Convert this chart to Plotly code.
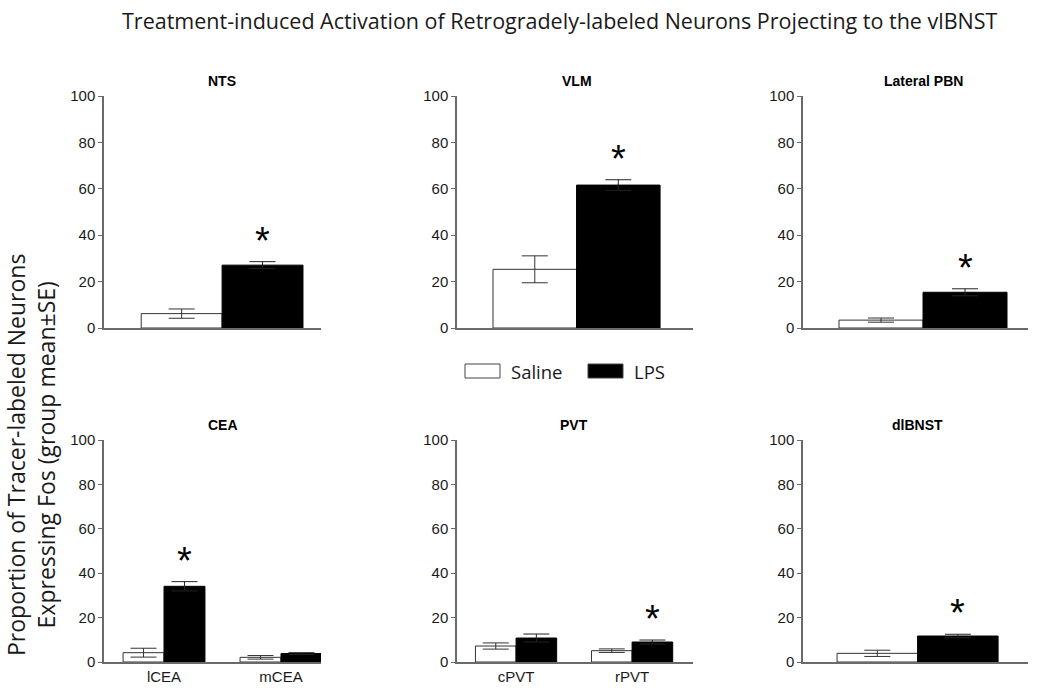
import plotly.graph_objects as go

# data (percent of tracer-labeled neurons that are Fos+)
panel_titles = ["NTS", "VLM", "Lateral PBN", "CEA", "PVT", "dlBNST"]
categories = [["NTS"], ["VLM"], ["Lateral PBN"], ["lCEA", "mCEA"], ["cPVT", "rPVT"], ["dlBNST"]]
saline_mean = [[6.2], [25.3], [3.4], [4.2, 2.1], [7.2, 5.1], [3.9]]
saline_se = [[2.0], [5.8], [0.9], [2.0, 0.8], [1.4, 0.8], [1.4]]
lps_mean = [[27.1], [61.6], [15.4], [34.1, 3.8], [10.8, 9.0], [11.7]]
lps_se = [[1.5], [2.3], [1.5], [2.1, 0.4], [1.8, 0.9], [0.8]]
significant = [[True], [True], [True], [True, False], [False, True], [True]]
y_ticks = [0, 20, 40, 60, 80, 100]

W, H = 1050, 690
BARGAP = 0.3

# panel geometry in pixels: (x left, x right) of the axis, category range
col_px = [(104, 321), (457, 693), (803, 1028), (104, 321), (457, 693), (803, 1028)]
row_px = [(96, 328)] * 3 + [(440, 662)] * 3
x_ranges = [(-0.511, 0.428), (-0.501, 0.488), (-0.5, 0.4375),
            (-0.513, 1.342), (-0.509, 1.525), (-0.498, 0.48)]

AX_COL = "#6a6a6a"
TXT = "#1a1a1a"

fig = go.Figure()
layout = dict(width=W, height=H, margin=dict(l=0, r=0, t=0, b=0, autoexpand=False),
              plot_bgcolor="white", paper_bgcolor="white",
              barmode="group", bargap=BARGAP, bargroupgap=0,
              showlegend=False, font=dict(family="Liberation Sans, Arial", color=TXT))
annotations = []

for i, title in enumerate(panel_titles):
    n = i + 1
    xa, ya = f"x{n}", f"y{n}"
    fig.add_trace(go.Bar(
        x=categories[i], y=saline_mean[i], xaxis=xa, yaxis=ya, name="Saline",
        marker=dict(color="white", line=dict(color="#333333", width=1)),
        error_y=dict(type="data", array=saline_se[i], color="#333333", thickness=1, width=13)))
    fig.add_trace(go.Bar(
        x=categories[i], y=lps_mean[i], xaxis=xa, yaxis=ya, name="LPS",
        marker=dict(color="black", line=dict(color="black", width=1)),
        error_y=dict(type="data", array=lps_se[i], color="#222222", thickness=1, width=13)))

    x0, x1 = col_px[i]
    ytop, ybot = row_px[i]
    key = "" if n == 1 else str(n)
    layout["xaxis" + key] = dict(
        domain=[x0 / W, x1 / W], anchor=ya, range=list(x_ranges[i]), automargin=False,
        type="category", showline=True, linecolor=AX_COL, linewidth=1.5,
        ticks="", showgrid=False, zeroline=False,
        showticklabels=len(categories[i]) > 1,
        tickfont=dict(size=15, color=TXT, family="Liberation Sans, Arial"))
    layout["yaxis" + key] = dict(
        domain=[(H - ybot) / H, (H - ytop) / H], anchor=xa, range=[0, 100], automargin=False,
        tickvals=y_ticks, showline=True, linecolor=AX_COL, linewidth=1.5,
        ticks="outside", ticklen=4, tickcolor=AX_COL, showgrid=False, zeroline=False,
        tickfont=dict(size=15, color=TXT, family="Liberation Sans, Arial"))

    # panel title, centred over the bar groups
    annotations.append(dict(
        x=(len(categories[i]) - 1) / 2, y=100, xref=xa, yref=ya, yshift=15,
        text=f"<b>{title}</b>", showarrow=False, yanchor="middle",
        font=dict(size=14, color="black", family="Liberation Sans, Arial")))

    # significance stars above the LPS bars
    w = (1 - BARGAP) / 4
    for j, sig in enumerate(significant[i]):
        if sig:
            annotations.append(dict(
                x=j + w, y=lps_mean[i][j] + lps_se[i][j], xref=xa, yref=ya,
                yshift=21, text="*", showarrow=False, yanchor="middle",
                font=dict(size=38, color="black", family="Liberation Sans, Arial")))

# figure title and shared y label
annotations.append(dict(
    x=560 / W, y=1 - 20 / H, xref="paper", yref="paper", showarrow=False,
    xanchor="center", yanchor="middle",
    text="Treatment-induced Activation of Retrogradely-labeled Neurons Projecting to the vlBNST",
    font=dict(size=21.5, color=TXT, family="Open Sans")))
annotations.append(dict(
    x=31 / W, y=1 - 455 / H, xref="paper", yref="paper", showarrow=False, textangle=-90,
    xanchor="center", yanchor="middle",
    text="Proportion of Tracer-labeled Neurons<br>Expressing Fos (group mean\u00b1SE)",
    font=dict(size=23, color=TXT, family="Open Sans")))

# legend drawn as boxes + labels
legend_labels = ["Saline", "LPS"]
legend_fill = ["white", "black"]
legend_box_x = [465, 588]
shapes = []
for lab, fill, bx in zip(legend_labels, legend_fill, legend_box_x):
    shapes.append(dict(type="rect", xref="paper", yref="paper",
                       x0=bx / W, x1=(bx + 35) / W, y0=1 - 378 / H, y1=1 - 364 / H,
                       fillcolor=fill, line=dict(color="#444444", width=1)))
    annotations.append(dict(x=(bx + 44) / W, y=1 - 371 / H, xref="paper", yref="paper",
                            xanchor="left", yanchor="middle", showarrow=False, text=lab,
                            font=dict(size=18.5, color=TXT, family="Open Sans")))

layout["annotations"] = annotations
layout["shapes"] = shapes
fig.update_layout(**layout)
fig.write_html("out.html", config={"displayModeBar": False},
               post_script="document.body.style.margin = '0px';")
